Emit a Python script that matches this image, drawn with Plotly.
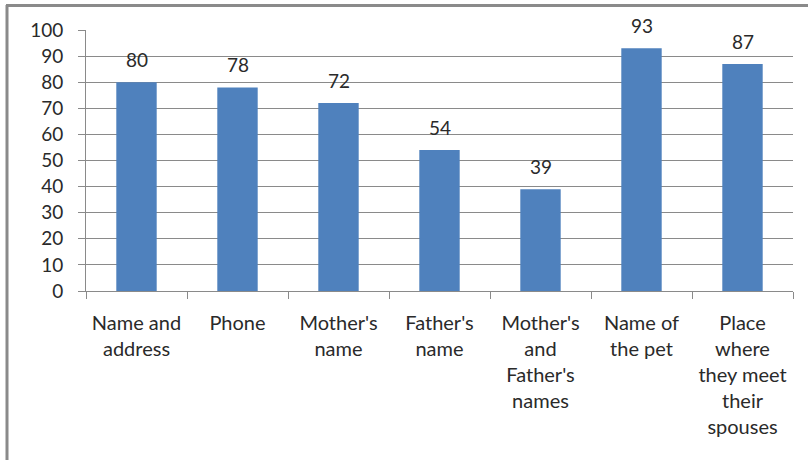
import plotly.graph_objects as go

categories = ["Name and address", "Phone", "Mother's name", "Father's name",
              "Mother's and Father's names", "Name of the pet",
              "Place where they meet their spouses"]
tick_labels = ["Name and<br>address", "Phone", "Mother's<br>name", "Father's<br>name",
               "Mother's<br>and<br>Father's<br>names", "Name of<br>the pet",
               "Place<br>where<br>they meet<br>their<br>spouses"]
values = [80, 78, 72, 54, 39, 93, 87]

W, H = 808, 460
ml, mr, mt, mb = 86, 15, 30, 169
pw, ph = W - ml - mr, H - mt - mb

txt = "#2a2a2a"
fig = go.Figure()
fig.add_trace(go.Bar(x=categories, y=values, marker=dict(color="#4F81BD", line=dict(width=0)),
                     showlegend=False, hoverinfo="skip"))

for c, v in zip(categories, values):
    fig.add_annotation(x=c, y=v, text=str(v), showarrow=False, yanchor="bottom",
                       yshift=9, font=dict(family="Lato", size=19, color=txt))

def px_x(p):
    return (p - ml) / pw

def px_y(p):
    return (H - mb - p) / ph

grey = "#8a8a8a"
fig.add_shape(type="line", xref="paper", yref="paper", x0=px_x(6), x1=px_x(W + 2),
              y0=px_y(5.5), y1=px_y(5.5), line=dict(color=grey, width=3))
fig.add_shape(type="line", xref="paper", yref="paper", x0=px_x(7), x1=px_x(7),
              y0=px_y(5), y1=px_y(H + 2), line=dict(color=grey, width=3))

fig.update_layout(
    width=W, height=H,
    margin=dict(l=ml, r=mr, t=mt, b=mb),
    paper_bgcolor="white", plot_bgcolor="white",
    bargap=0.6,
    font=dict(family="Lato", color=txt),
    xaxis=dict(tickmode="array", tickvals=categories, ticktext=tick_labels,
               tickfont=dict(family="Lato", size=20, color=txt),
               ticks="outside", tickson="boundaries", ticklen=7, tickcolor=grey,
               ticklabelstandoff=14,
               showline=True, linecolor=grey, linewidth=1, showgrid=False,
               fixedrange=True),
    yaxis=dict(range=[0, 100], dtick=10, tickfont=dict(family="Lato", size=19, color=txt),
               ticks="outside", ticklen=7, tickcolor=grey, ticklabelstandoff=11,
               showline=True, linecolor=grey, linewidth=1,
               showgrid=True, gridcolor=grey, gridwidth=1, zeroline=False,
               fixedrange=True),
)

fig.write_html("out.html")
